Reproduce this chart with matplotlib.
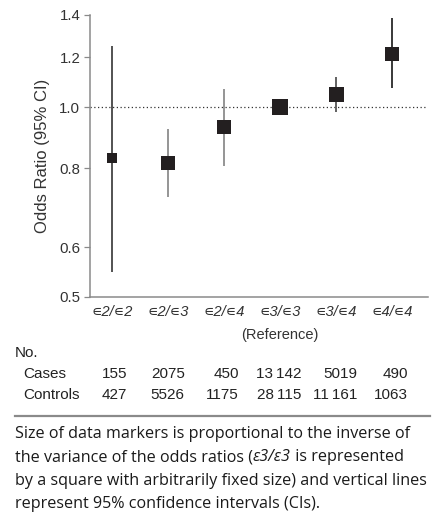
import matplotlib
matplotlib.use("Agg")
import matplotlib.pyplot as plt
import matplotlib.transforms as mtransforms
from matplotlib.ticker import FixedLocator, NullLocator

# ---------------- data ----------------
genotypes = ["\u220a2/\u220a2", "\u220a2/\u220a3", "\u220a2/\u220a4",
             "\u220a3/\u220a3", "\u220a3/\u220a4", "\u220a4/\u220a4"]
odds_ratio = [0.83, 0.815, 0.93, 1.0, 1.05, 1.215]
ci_low = [0.548, 0.72, 0.808, 1.0, 0.984, 1.074]
ci_high = [1.25, 0.922, 1.07, 1.0, 1.118, 1.383]
marker_weight = [6.5, 10.0, 9.4, 11.5, 10.8, 10.0]
cases = ["155", "2075", "450", "13\u2009142", "5019", "490"]
controls = ["427", "5526", "1175", "28\u2009115", "11\u2009161", "1063"]
yticks = [0.5, 0.6, 0.8, 1.0, 1.2, 1.4]
ytick_labels = ["0.5", "0.6", "0.8", "1.0", "1.2", "1.4"]
caption_lines = [
    ["Size of data markers is proportional to the inverse of"],
    ["the variance of the odds ratios (", "\u03b53/\u03b53", " is represented"],
    ["by a square with arbitrarily fixed size) and vertical lines"],
    ["represent 95% confidence intervals (CIs)."],
]

# ---------------- style ----------------
W, H = 432, 512
fig = plt.figure(figsize=(W / 100, H / 100), dpi=100)
SANS = ["Liberation Sans", "DejaVu Sans"]
CAP = ["Open Sans", "DejaVu Sans"]
marker_color = "#231f20"
ci_colors = ["#444444", "#8c8c8c", "#8c8c8c", "#444444", "#555555", "#2a2a2a"]
spine_color = "#8a8a8a"
num_offset = [0.27, 0.3, 0.27, 0.38, 0.38, 0.29]

ax_l, ax_r, ax_t, ax_b = 90, 428, 15, 297
ax = fig.add_axes([ax_l / W, 1 - ax_b / H, (ax_r - ax_l) / W, (ax_b - ax_t) / H])
ax.set_yscale("log")
ax.set_ylim(0.5, 1.4)
ax.set_xlim(-0.393, 5.643)

x = list(range(len(genotypes)))
ax.axhline(1.0, color="#333333", lw=0.9, ls=(0, (1, 2)), zorder=1)
for i in x:
    ax.plot([i, i], [ci_low[i], ci_high[i]], color=ci_colors[i], lw=1.3,
            solid_capstyle="butt", zorder=2)
    ax.plot(i, odds_ratio[i], marker="s", ms=marker_weight[i],
            color=marker_color, mec=marker_color, mew=0, zorder=3)

ax.yaxis.set_major_locator(FixedLocator(yticks))
ax.yaxis.set_minor_locator(NullLocator())
ax.set_yticklabels(ytick_labels, fontsize=10.8, family=SANS, color="#333333")
ax.set_xticks(x)
ax.set_xticklabels(genotypes, fontsize=10.5, family=SANS, style="italic",
                   color="#333333")
ax.tick_params(axis="x", length=0, pad=6)
ax.tick_params(axis="y", length=4, width=0.9, color=spine_color, pad=3)
for s in ["top", "right"]:
    ax.spines[s].set_visible(False)
for s in ["left", "bottom"]:
    ax.spines[s].set_color(spine_color)
    ax.spines[s].set_linewidth(1.1)
ax.set_ylabel("Odds Ratio (95% CI)", fontsize=12, family=SANS, color="#333333",
              labelpad=7)

# ---------------- table ----------------
trans = mtransforms.blended_transform_factory(ax.transData, fig.transFigure)
fy = lambda py: 1 - py / H
ax.text(3, fy(335), "(Reference)", transform=trans, ha="center", va="center",
        fontsize=10.5, family=SANS, color="#333333")
fig.text(15 / W, fy(353), "No.", ha="left", va="center", fontsize=11,
         family=SANS, color="#222222")
fig.text(23 / W, fy(374), "Cases", ha="left", va="center", fontsize=11,
         family=SANS, color="#222222")
fig.text(23 / W, fy(395), "Controls", ha="left", va="center", fontsize=11,
         family=SANS, color="#222222")
for i in x:
    ax.text(i + num_offset[i], fy(374), cases[i], transform=trans, ha="right",
            va="center", fontsize=11, family=SANS, color="#222222")
    ax.text(i + num_offset[i], fy(395), controls[i], transform=trans, ha="right",
            va="center", fontsize=11, family=SANS, color="#222222")

# separator
fig.add_artist(plt.Line2D([15 / W, 430 / W], [fy(416), fy(416)],
                          transform=fig.transFigure, color="#8a8a8a", lw=1.6))

# ---------------- caption ----------------
renderer = fig.canvas.get_renderer()
cap_y0, cap_dy = 434, 23.3
for li, parts in enumerate(caption_lines):
    xpix = 15
    for pi, part in enumerate(parts):
        style = "italic" if (len(parts) > 1 and pi == 1) else "normal"
        t = fig.text(xpix / W, fy(cap_y0 + li * cap_dy), part, ha="left",
                     va="center", fontsize=11.6, family=CAP, style=style,
                     color="#1a1a1a")
        bb = t.get_window_extent(renderer)
        xpix += bb.width

fig.savefig("out.png", dpi=100)
